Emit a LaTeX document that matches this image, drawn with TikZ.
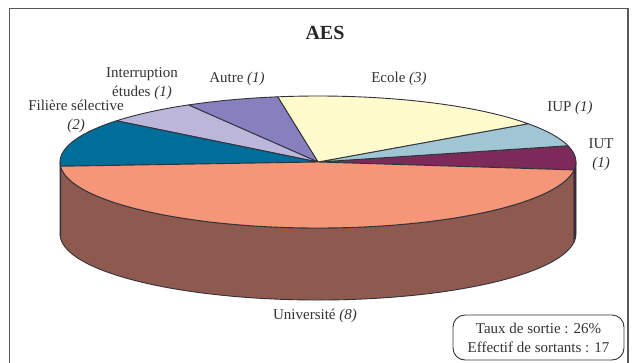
\documentclass[tikz,border=0pt]{standalone}
\usepackage{fontspec}
\setmainfont{Liberation Serif}
\usepackage{tikz}

\definecolor{univTop}{RGB}{245,150,120}
\definecolor{univSide}{RGB}{142,90,80}
\definecolor{filiere}{RGB}{0,110,152}
\definecolor{filiereSide}{RGB}{0,70,100}
\definecolor{interr}{RGB}{188,182,218}
\definecolor{autre}{RGB}{134,128,190}
\definecolor{ecole}{RGB}{255,251,204}
\definecolor{iup}{RGB}{160,197,211}
\definecolor{iut}{RGB}{124,42,90}
\definecolor{iutSide}{RGB}{82,26,60}
\definecolor{contour}{RGB}{50,50,60}

\begin{document}
\begin{tikzpicture}[x=1pt, y=1pt,
                    lbl/.style={font=\fontsize{15}{19}\selectfont, text=black!80, align=center, inner sep=0pt},
                    titre/.style={font=\fontsize{20}{24}\selectfont\bfseries, text=black!85, inner sep=0pt},
                    part/.style={draw=contour, line width=0.9pt, line join=round},
                    ell/.style={x radius=258, y radius=66}]

	\useasboundingbox (0,0) rectangle (634,-362);
	\fill[white] (0,0) rectangle (634,-362);
	\draw[gray!70!black, line width=1.2pt] (9.5,-380) -- (9.5,-8.5) -- (628,-8.5) -- (628,-380);

	\coordinate (C) at (318,-162);

	% sides (depth 72)
	\filldraw[part, fill=filiereSide] (C) ++(180:258 and 66) arc[ell, start angle=180, end angle=183.71]
		-- ++(0,-72) arc[ell, start angle=183.71, end angle=180] -- cycle;
	\filldraw[part, fill=univSide] (C) ++(183.71:258 and 66) arc[ell, start angle=183.71, end angle=353.1]
		-- ++(0,-72) arc[ell, start angle=353.1, end angle=183.71] -- cycle;
	\filldraw[part, fill=iutSide] (C) ++(353.1:258 and 66) arc[ell, start angle=353.1, end angle=360]
		-- ++(0,-72) arc[ell, start angle=360, end angle=353.1] -- cycle;

	% top face
	\filldraw[part, fill=iut] (C) -- ++(-6.9:258 and 66) arc[ell, start angle=-6.9, end angle=14.28] -- cycle;
	\filldraw[part, fill=iup] (C) -- ++(14.28:258 and 66) arc[ell, start angle=14.28, end angle=35.46] -- cycle;
	\filldraw[part, fill=ecole] (C) -- ++(35.46:258 and 66) arc[ell, start angle=35.46, end angle=98.99] -- cycle;
	\filldraw[part, fill=autre] (C) -- ++(98.99:258 and 66) arc[ell, start angle=98.99, end angle=120.17] -- cycle;
	\filldraw[part, fill=interr] (C) -- ++(120.17:258 and 66) arc[ell, start angle=120.17, end angle=141.35] -- cycle;
	\filldraw[part, fill=filiere] (C) -- ++(141.35:258 and 66) arc[ell, start angle=141.35, end angle=183.71] -- cycle;
	\filldraw[part, fill=univTop] (C) -- ++(183.71:258 and 66) arc[ell, start angle=183.71, end angle=353.1] -- cycle;

	% labels
	\node[titre] (Titre) at (325,-33) {AES};

	\node[lbl] (lblInterr) at (142,-84) {Interruption\\ études \textit{(1)}};
	\node[lbl] (lblAutre) at (237,-79) {Autre \textit{(1)}};
	\node[lbl] (lblEcole) at (399,-79) {Ecole \textit{(3)}};
	\node[lbl] (lblIUP) at (570,-108) {IUP \textit{(1)}};
	\node[lbl] (lblIUT) at (601,-155) {IUT\\ \textit{(1)}};
	\node[lbl] (lblFiliere) at (76,-116) {Filière sélective\\ \textit{(2)}};
	\node[lbl] (lblUniv) at (315,-316) {Université \textit{(8)}};

	\node[lbl, draw=black!80, line width=0.9pt, rounded corners=12pt, minimum width=171pt, minimum height=45pt] (Bilan) at (538.5,-337.5)
		{Taux de sortie : 26\%\\ Effectif de sortants : 17};

\end{tikzpicture}
\end{document}
